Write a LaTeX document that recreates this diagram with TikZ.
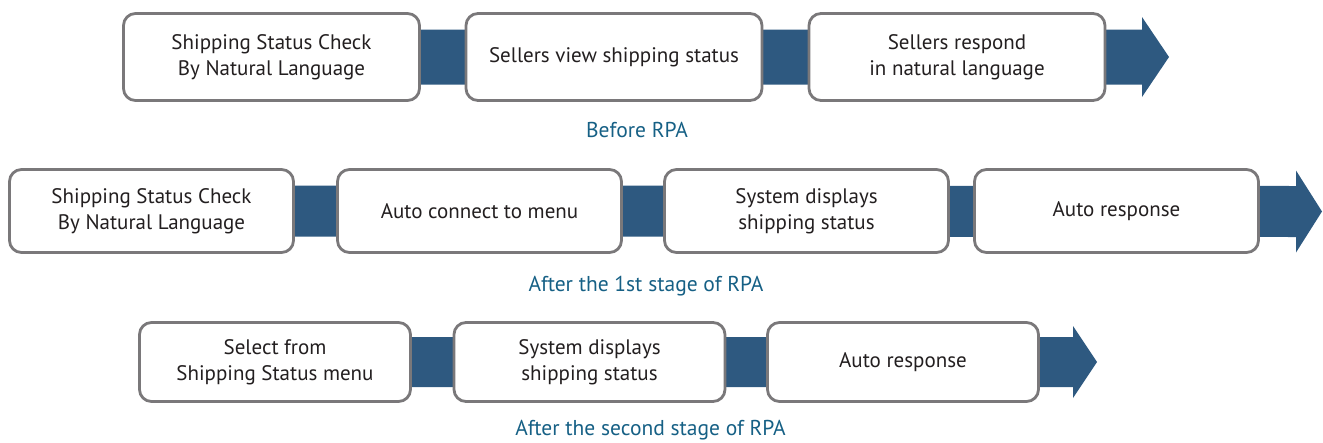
\documentclass[tikz,border=0pt]{standalone}
\usepackage{fontspec}
\setmainfont{PT Sans}
\usetikzlibrary{positioning,backgrounds}
\definecolor{bandblue}{RGB}{46,89,128}
\definecolor{boxgray}{RGB}{122,120,122}
\definecolor{captionblue}{RGB}{22,96,133}
\definecolor{textdark}{RGB}{35,31,32}
\begin{document}
\begin{tikzpicture}[
x=1pt, y=-1pt,
stage/.style={rectangle, rounded corners=12pt, draw=boxgray, line width=2.8pt, fill=white, align=center, text=textdark, inner sep=0pt, font=\fontsize{21}{26.5}\selectfont},
stage1/.style={stage, minimum width=296pt, minimum height=87pt},
stage2/.style={stage, minimum width=284pt, minimum height=83pt},
stage3/.style={stage, minimum width=271pt, minimum height=79pt},
caption/.style={text=captionblue, anchor=base, font=\fontsize{21.5}{24}\selectfont},
band/.style={fill=bandblue},
]
\useasboundingbox (0,0) rectangle (1323,442);

% before RPA
\coordinate (r1tip) at (1169,57);
\node [stage1] (r1a) at (271.5,57) {Shipping Status Check\\By Natural Language};
\node [stage1] (r1b) at (614,57) {Sellers view shipping status};
\node [stage1] (r1c) at (957,57) {Sellers respond\\in natural language};

% after the 1st stage
\coordinate (r2tip) at (1322,211.5);
\node [stage2] (r2a) at (151.5,211) {Shipping Status Check\\By Natural Language};
\node [stage2] (r2b) at (479.5,211) {Auto connect to menu};
\node [stage2] (r2c) at (806.5,211) {System displays\\shipping status};
\node [stage2] (r2d) at (1116.5,211) {Auto response};

% after the second stage
\coordinate (r3tip) at (1097,362);
\node [stage3] (r3a) at (275,362) {Select from\\Shipping Status menu};
\node [stage3] (r3b) at (589.5,362) {System displays\\shipping status};
\node [stage3] (r3c) at (903,362) {Auto response};

% bands behind the boxes
\begin{scope}[on background layer]
\fill[band] ([yshift=27.5pt]r1a.center) -- ([xshift=-27pt,yshift=27.5pt]r1tip) -- ([xshift=-27pt,yshift=40pt]r1tip) -- (r1tip)
  -- ([xshift=-27pt,yshift=-40pt]r1tip) -- ([xshift=-27pt,yshift=-27.5pt]r1tip) -- ([yshift=-27.5pt]r1a.center) -- cycle;
\fill[band] ([yshift=25.5pt]r2a.center) -- ([xshift=-26pt,yshift=25.5pt]r2tip) -- ([xshift=-26pt,yshift=41pt]r2tip) -- (r2tip)
  -- ([xshift=-26pt,yshift=-41pt]r2tip) -- ([xshift=-26pt,yshift=-25.5pt]r2tip) -- ([yshift=-25.5pt]r2a.center) -- cycle;
\fill[band] ([yshift=25pt]r3a.center) -- ([xshift=-24pt,yshift=25pt]r3tip) -- ([xshift=-24pt,yshift=36pt]r3tip) -- (r3tip)
  -- ([xshift=-24pt,yshift=-36pt]r3tip) -- ([xshift=-24pt,yshift=-25pt]r3tip) -- ([yshift=-25pt]r3a.center) -- cycle;
\end{scope}

\node [caption] (c1) at (637,137) {Before RPA};
\node [caption] (c2) at (646,291) {After the 1st stage of RPA};
\node [caption] (c3) at (650.5,435.5) {After the second stage of RPA};
\end{tikzpicture}
\end{document}
